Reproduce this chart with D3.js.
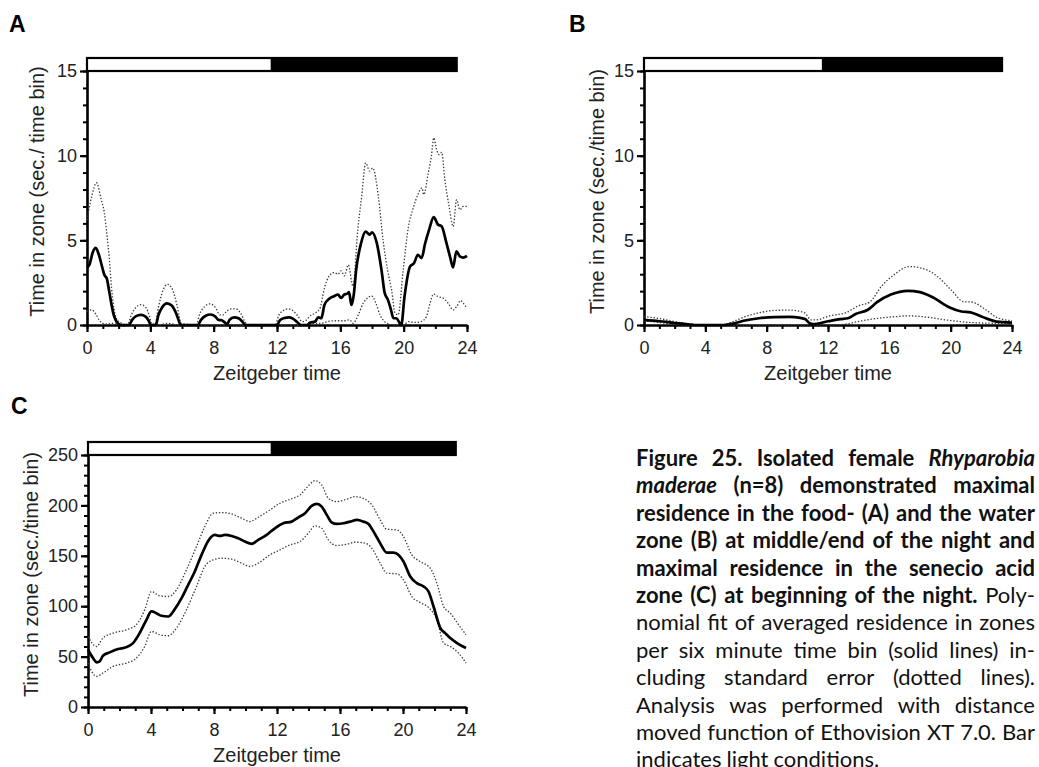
<!DOCTYPE html>
<html>
<head>
<meta charset="utf-8">
<script src="https://cdn.jsdelivr.net/npm/d3@7"></script>
<style>
  html, body { margin: 0; padding: 0; background: #fff; }
  svg { display: block; }
</style>
</head>
<body>
<svg id="fig" width="1039" height="767"></svg>
<script>
// ---------- Data (hours of Zeitgeber time, seconds per time bin) ----------

// Panel A: food zone
const foodMean = [
  [0,3.4],[0.15,3.55],[0.35,4.25],[0.55,4.55],[0.75,4.15],[0.95,3.45],[1.1,2.95],[1.25,2.75],[1.4,2.0],[1.55,1.2],[1.7,0.55],[1.85,0.22],[2.0,0.06],[2.15,0],
  [2.65,0],[2.85,0.3],[3.1,0.52],[3.4,0.6],[3.7,0.5],[3.9,0.25],[4.02,0],
  [4.35,0],[4.5,0.55],[4.75,1.05],[5.05,1.28],[5.35,1.15],[5.6,0.75],[5.8,0.25],[5.9,0],
  [7.0,0],[7.2,0.3],[7.5,0.55],[7.8,0.62],[8.1,0.5],[8.3,0.3],[8.5,0.28],[8.7,0.15],[8.85,0.05],
  [9.0,0.3],[9.3,0.45],[9.6,0.38],[9.85,0.15],[10.0,0],
  [12.0,0],[12.2,0.3],[12.5,0.42],[12.75,0.45],[13.0,0.38],[13.3,0.15],[13.5,0],
  [13.9,0],[14.1,0.15],[14.4,0.2],[14.6,0.45],[14.8,0.4],[15.0,1.2],[15.3,1.55],[15.6,1.7],[15.85,1.8],[16.05,1.6],[16.25,1.8],[16.45,1.85],[16.55,1.95],[16.7,1.18],[16.85,1.8],
  [17.0,3.25],[17.3,4.8],[17.6,5.52],[17.85,5.33],[18.0,5.47],[18.3,4.85],[18.6,3.25],[18.8,1.9],[19.0,1.5],[19.2,0.9],[19.35,0.4],[19.55,0.4],[19.75,0.1],[19.85,0],
  [20.05,1.65],[20.4,3.45],[20.65,3.65],[20.9,4.14],[21.13,3.95],[21.35,4.8],[21.6,5.6],[21.9,6.37],[22.15,5.95],[22.4,5.82],[22.7,4.85],[22.95,3.95],[23.12,3.4],[23.33,4.35],[23.55,4.05],[23.76,3.98],[24.0,4.08]
];
const foodUpper = [
  [0,6.2],[0.3,7.6],[0.6,8.4],[0.9,7.4],[1.1,6.6],[1.25,5.4],[1.4,4.0],[1.55,2.2],[1.7,1.0],[1.85,0.4],[2.0,0.2],[2.2,0.1],[2.45,0],
  [2.55,0],[2.8,0.6],[3.1,1.05],[3.4,1.2],[3.7,1.05],[3.95,0.5],[4.1,0.05],
  [4.3,0.05],[4.5,1.0],[4.8,2.05],[5.1,2.4],[5.4,2.1],[5.7,1.1],[5.95,0.1],
  [6.9,0],[7.1,0.6],[7.45,1.1],[7.75,1.25],[8.1,1.05],[8.4,0.6],[8.6,0.6],[8.8,0.8],[9.1,0.95],[9.4,0.95],[9.7,0.7],[10.0,0.15],[10.2,0],
  [11.9,0],[12.1,0.55],[12.4,0.85],[12.7,0.95],[13.0,0.85],[13.3,0.55],[13.6,0.2],[13.8,0.25],[14.1,0.55],[14.4,0.7],[14.7,0.95],
  [15.0,2.2],[15.3,2.9],[15.6,3.1],[15.85,3.0],[16.05,3.2],[16.25,2.9],[16.5,3.55],[16.8,2.3],[17.1,5.6],[17.35,7.6],[17.6,9.57],[17.85,9.1],[18.05,9.27],[18.4,7.6],[18.7,5.0],[19.0,3.15],[19.25,2.0],[19.45,0.7],[19.65,0.6],
  [19.97,3.25],[20.3,5.8],[20.6,6.9],[20.9,7.7],[21.15,8.1],[21.27,7.7],[21.55,8.97],[21.75,9.96],[21.9,11.05],[22.08,10.36],[22.24,10.06],[22.4,10.2],[22.6,8.6],[22.87,7.0],[23.13,5.82],[23.34,7.4],[23.55,6.8],[23.76,7.0],[24.0,7.0]
];
const foodLower = [
  [0,0.8],[0.3,0.9],[0.55,0.65],[0.8,0.25],[1.0,0.1],[1.3,0.05],[1.6,0.1],[1.8,0.05],[2.0,0],
  [4.6,0],[5.0,0.1],[5.5,0.05],[5.7,0],
  [13.9,0],[14.3,0.1],[14.8,0.1],[15.2,0.2],[15.6,0.25],[16.2,0.25],[16.6,0.3],[16.8,0.1],[17.13,0.59],[17.44,1.28],[17.76,1.63],[17.97,1.72],[18.24,1.3],[18.5,0.6],[18.8,0.2],[19.1,0.05],[19.4,0],
  [20.0,0],[20.3,0.2],[20.7,0.15],[21.1,0.2],[21.44,0.5],[21.66,1.28],[21.9,1.83],[22.18,1.67],[22.5,1.58],[22.81,1.28],[23.13,0.89],[23.34,1.08],[23.6,1.44],[23.8,1.25],[24.0,0.99]
];

// Panel B: water zone
const waterMean = [
  [0,0.3],[1,0.22],[2,0.12],[3,0.03],[3.3,0],[5.2,0],[5.9,0.1],[6.5,0.25],[7.5,0.4],[8.5,0.47],[9.5,0.48],[10.2,0.42],[10.5,0.35],[10.8,0.1],[11.0,0.05],
  [12.0,0.22],[12.8,0.35],[13.3,0.4],[13.8,0.65],[14.6,0.9],[15.2,1.35],[16.1,1.8],[17.2,2.02],[18.0,1.94],[18.9,1.6],[19.9,1.05],[20.7,0.8],[21.3,0.75],[22.0,0.5],[23.0,0.2],[24.0,0.14]
];
const waterUpper = [
  [0,0.5],[1,0.38],[2,0.2],[3,0.05],[3.3,0],[5.0,0],[5.8,0.2],[6.6,0.5],[7.5,0.72],[8.5,0.86],[9.5,0.88],[10.2,0.8],[10.5,0.7],[10.9,0.3],[11.2,0.3],
  [12.1,0.54],[13.2,0.74],[14.0,1.14],[14.7,1.34],[15.5,2.3],[16.35,3.0],[17.3,3.45],[18.0,3.38],[19.1,2.9],[20.0,2.1],[20.9,1.36],[21.3,1.36],[22.3,0.9],[23.0,0.45],[24.0,0.25]
];
const waterLower = [
  [0,0.25],[1,0.15],[2,0.05],[2.6,0],[12.5,0],[13.2,0.06],[14.2,0.25],[15.5,0.42],[16.5,0.5],[17.2,0.54],[18.5,0.46],[19.7,0.3],[21.4,0.14],[23.0,0.1],[24.0,0.08]
];

// Panel C: senecio acid zone
const senecioMean = [
  [0,56.8],[0.32,48.5],[0.57,44.3],[0.74,45.2],[0.95,50.9],[1.38,54.2],[1.91,57.5],[2.44,59.4],[2.86,63.4],[3.28,73.3],[3.71,86.5],[4.03,94.8],[4.34,93.1],[4.66,90.5],[5.09,89.8],
  [5.51,97.1],[5.94,108],[6.36,121.2],[6.78,134.4],[7.21,150.9],[7.63,164.8],[8.05,170.7],[8.37,169.7],[8.69,170.7],[9.12,169.7],[9.54,167.4],[9.96,164.1],[10.39,161.8],[10.81,165.8],
  [11.34,170.7],[11.87,177.3],[12.4,182.3],[12.93,183.9],[13.36,188.2],[13.78,192.2],[14.2,199.5],[14.52,201.5],[14.84,198.8],[15.16,190.6],[15.48,183],[15.79,181.6],[16.22,182.3],
  [16.64,183.9],[17.07,185.6],[17.49,183.9],[17.81,181.6],[18.13,174],[18.55,162.5],[18.97,153.2],[19.4,153.2],[19.72,150.9],[20.03,144.3],[20.46,129.5],[20.88,122.9],[21.31,119.6],
  [21.62,114.6],[21.94,99.7],[22.37,78.3],[22.68,73.3],[23.0,68.4],[23.43,63.4],[24.0,58.5]
];
const senecioUpper = [
  [0,70],[0.53,60],[0.95,68.4],[1.59,73.3],[2.44,76.6],[3.07,81.6],[3.6,96.4],[4.03,114.6],[4.56,110.3],[5.09,109.6],[5.62,116.2],[6.25,136.1],[6.89,159.2],[7.42,179],[7.95,192.2],
  [8.48,192.9],[9.12,191.5],[9.75,187.3],[10.28,184],[10.81,188.2],[11.55,195.5],[12.19,202.1],[12.83,206.1],[13.46,210.4],[13.99,219.3],[14.41,224.6],[14.84,220.3],[15.26,207.1],
  [15.79,203.8],[16.43,206.1],[16.96,208.7],[17.6,206.1],[18.02,200.5],[18.55,185.6],[18.97,176.4],[19.61,175.7],[20.03,169.1],[20.56,150.9],[21.09,144.3],[21.73,137.7],[22.15,122.9],
  [22.58,99.7],[23.0,93.1],[23.53,81.6],[24.0,71.7]
];
const senecioLower = [
  [0,43.6],[0.53,30.4],[0.95,33.7],[1.59,40.3],[2.44,43.6],[3.07,48.5],[3.6,60.1],[4.03,75],[4.56,71.7],[5.09,70.7],[5.62,78.3],[6.25,96.4],[6.89,119.6],[7.42,139.4],[7.95,146],
  [8.48,147.6],[9.12,146.6],[9.75,142.7],[10.28,139.4],[10.81,142.7],[11.55,150.9],[12.19,155.9],[12.83,160.8],[13.46,164.1],[13.99,172.4],[14.41,179.7],[14.84,177.3],[15.26,165.8],
  [15.79,160.2],[16.43,161.5],[16.96,163.5],[17.6,162.5],[18.02,157.5],[18.55,142.7],[18.97,132.8],[19.61,132.1],[20.03,126.2],[20.56,109.6],[21.09,103.7],[21.73,97.1],[22.15,86.5],
  [22.58,63.4],[23.0,60.1],[23.53,53.5],[24.0,43.6]
];

// Light/dark bar (hours)
const lightPhase = [0, 11.6];
const darkPhase = [11.6, 23.35];

// Axis ticks
const hourTicks = [0, 4, 8, 12, 16, 20, 24];
const hourMinorTicks = d3.range(0, 25, 1);
const smallZoneTicks = [0, 5, 10, 15];
const smallZoneMinor = d3.range(0, 16, 1);
const senecioTicks = [0, 50, 100, 150, 200, 250];
const senecioMinor = d3.range(0, 251, 10);

// ---------- Drawing ----------
const svg = d3.select("#fig");
svg.append("rect").attr("width", 1039).attr("height", 767).attr("fill", "#fff");

const AXIS_FONT = "'Liberation Sans', Arial, Helvetica, sans-serif";

function drawPanel(p) {
  const g = svg.append("g");
  const x = d3.scaleLinear().domain([0, 24]).range([p.left, p.right]);
  const y = d3.scaleLinear().domain([0, p.yMax]).range([p.bottom, p.top]);

  // minor ticks
  g.append("g").attr("transform", `translate(0,${p.bottom})`)
    .call(d3.axisBottom(x).tickValues(hourMinorTicks).tickSize(4).tickSizeOuter(0).tickFormat(""))
    .call(s => s.select(".domain").remove())
    .call(s => s.selectAll("line").attr("stroke-width", 2));
  g.append("g").attr("transform", `translate(${p.left},0)`)
    .call(d3.axisLeft(y).tickValues(p.yMinor).tickSize(4).tickSizeOuter(0).tickFormat(""))
    .call(s => s.select(".domain").remove())
    .call(s => s.selectAll("line").attr("stroke-width", 2));

  // major axes
  const xAxis = g.append("g").attr("transform", `translate(0,${p.bottom})`)
    .call(d3.axisBottom(x).tickValues(hourTicks).tickSize(7).tickSizeOuter(0).tickPadding(9));
  const yAxis = g.append("g").attr("transform", `translate(${p.left},0)`)
    .call(d3.axisLeft(y).tickValues(p.yTicks).tickSize(7).tickSizeOuter(0).tickPadding(3));
  [xAxis, yAxis].forEach(a => {
    a.select(".domain").attr("stroke-width", 2.6).attr("stroke", "#000");
    a.selectAll(".tick line").attr("stroke-width", 2.2);
    a.selectAll("text").attr("font-family", AXIS_FONT).attr("font-size", 18).attr("fill", "#222");
  });

  // light/dark bar
  const barH = 13;
  g.append("rect")
    .attr("x", x(lightPhase[0])).attr("y", p.top - barH)
    .attr("width", x(lightPhase[1]) - x(lightPhase[0])).attr("height", barH)
    .attr("fill", "#fff");
  g.append("rect")
    .attr("x", x(darkPhase[0])).attr("y", p.top - barH)
    .attr("width", x(darkPhase[1]) - x(darkPhase[0])).attr("height", barH)
    .attr("fill", "#000");
  g.append("rect")
    .attr("x", x(lightPhase[0])).attr("y", p.top - barH)
    .attr("width", x(darkPhase[1]) - x(lightPhase[0])).attr("height", barH)
    .attr("fill", "none").attr("stroke", "#000").attr("stroke-width", 2.2);

  // curves
  const line = d3.line().x(d => x(d[0])).y(d => y(d[1])).curve(d3.curveMonotoneX);
  [p.lower, p.upper].forEach(s => {
    g.append("path").attr("d", line(s))
      .attr("fill", "none").attr("stroke", "#3a3a3a").attr("stroke-width", 1.3)
      .attr("stroke-dasharray", "1.4,1.8");
  });
  g.append("path").attr("d", line(p.mean))
    .attr("fill", "none").attr("stroke", "#000").attr("stroke-width", 2.7)
    .attr("stroke-linejoin", "round");

  // axis titles
  g.append("text")
    .attr("x", (p.left + p.right) / 2).attr("y", p.bottom + 55)
    .attr("text-anchor", "middle")
    .attr("font-family", AXIS_FONT).attr("font-size", 20).attr("fill", "#222")
    .text("Zeitgeber time");
  g.append("text")
    .attr("transform", `translate(${p.yTitleX},${(p.bottom + p.top - 13) / 2}) rotate(-90)`)
    .attr("text-anchor", "middle").attr("dominant-baseline", "central")
    .attr("font-family", AXIS_FONT).attr("font-size", 20).attr("fill", "#222")
    .text(p.yTitle);

  // panel letter
  g.append("text")
    .attr("x", p.letterX).attr("y", p.letterY)
    .attr("font-family", AXIS_FONT).attr("font-weight", "bold").attr("font-size", 23)
    .text(p.letter);
}

drawPanel({
  letter: "A", letterX: 9, letterY: 32,
  left: 87, right: 467, bottom: 325, top: 71, yMax: 15,
  yTicks: smallZoneTicks, yMinor: smallZoneMinor,
  yTitle: "Time in zone (sec./ time bin)", yTitleX: 37,
  mean: foodMean, upper: foodUpper, lower: foodLower
});
drawPanel({
  letter: "B", letterX: 569, letterY: 32,
  left: 644, right: 1012, bottom: 325, top: 71, yMax: 15,
  yTicks: smallZoneTicks, yMinor: smallZoneMinor,
  yTitle: "Time in zone (sec./time bin)", yTitleX: 597,
  mean: waterMean, upper: waterUpper, lower: waterLower
});
drawPanel({
  letter: "C", letterX: 11, letterY: 414,
  left: 88, right: 466, bottom: 707, top: 455, yMax: 250,
  yTicks: senecioTicks, yMinor: senecioMinor,
  yTitle: "Time in zone (sec./time bin)", yTitleX: 31,
  mean: senecioMean, upper: senecioUpper, lower: senecioLower
});

// ---------- Caption (justified paragraph) ----------
const captionLines = [
  [["Figure 25. Isolated female ", "b"], ["Rhyparobia", "bi"]],
  [["maderae", "bi"], [" (n=8) demonstrated maximal", "b"]],
  [["residence in the food- (A) and the water", "b"]],
  [["zone (B) at middle/end of the night and", "b"]],
  [["maximal residence in the senecio acid", "b"]],
  [["zone (C) at beginning of the night.", "b"], [" Poly-", "r"]],
  [["nomial fit of averaged residence in zones", "r"]],
  [["per six minute time bin (solid lines) in-", "r"]],
  [["cluding standard error (dotted lines).", "r"]],
  [["Analysis was performed with distance", "r"]],
  [["moved function of Ethovision XT 7.0. Bar", "r"]],
  [["indicates light conditions.", "r"]]
];

const CAP_FONT = "Lato, 'Open Sans', sans-serif";
const capSize = 22;
const capLeft = 636, capRight = 1035, capTop = 466, capLead = 27.4;
const cap = svg.append("g").attr("font-family", CAP_FONT).attr("font-size", capSize).attr("fill", "#111");

function styleWord(t, st) {
  t.attr("font-weight", st.includes("b") ? "bold" : "normal")
   .attr("font-style", st.includes("i") ? "italic" : "normal");
}

captionLines.forEach((runs, i) => {
  const words = [];
  runs.forEach(([txt, st]) => txt.split(" ").filter(w => w.length).forEach(w => words.push({ w, st })));
  const baseY = capTop + i * capLead;
  const nodes = words.map(d => {
    const t = cap.append("text").attr("y", baseY).text(d.w);
    styleWord(t, d.st);
    return { t, width: t.node().getComputedTextLength() };
  });
  const total = d3.sum(nodes, n => n.width);
  const isLast = i === captionLines.length - 1;
  const space = capSize * 0.23;
  let gap = isLast ? space : (capRight - capLeft - total) / (nodes.length - 1);
  let squeeze = 1;
  if (gap < space * 0.6) {
    gap = space * 0.6;
    squeeze = (capRight - capLeft - gap * (nodes.length - 1)) / total;
  }
  let xPos = capLeft;
  nodes.forEach(n => {
    const w = n.width * squeeze;
    n.t.attr("x", xPos);
    if (squeeze < 1) n.t.attr("textLength", w).attr("lengthAdjust", "spacingAndGlyphs");
    xPos += w + gap;
  });
});
</script>
</body>
</html>
